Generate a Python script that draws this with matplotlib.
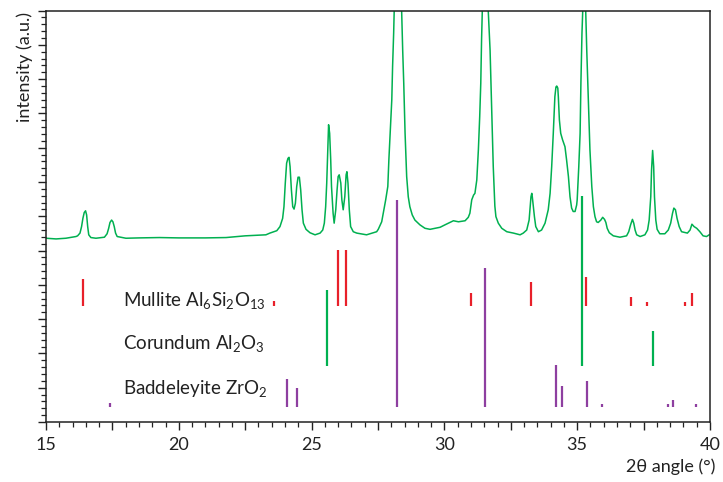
import matplotlib
matplotlib.use("Agg")
import matplotlib.pyplot as plt
from matplotlib.ticker import MultipleLocator, FuncFormatter

plt.rcParams['font.family'] = ['Lato', 'DejaVu Sans']
plt.rcParams['mathtext.fontset'] = 'custom'
plt.rcParams['mathtext.rm'] = 'Lato'
plt.rcParams['mathtext.it'] = 'Lato:italic'
plt.rcParams['mathtext.bf'] = 'Lato:bold'

# ---- measured XRD pattern (2theta, intensity a.u.), digitised ----
two_theta = [15.00, 15.38, 15.75, 16.13, 16.19, 16.28, 16.34, 16.39, 16.44, 16.49,
             16.53, 16.57, 16.61, 16.69, 16.88, 17.20, 17.30, 17.36, 17.41, 17.47,
             17.52, 17.57, 17.62, 17.68, 18.01, 18.51, 19.27, 20.00, 21.00, 21.78,
             22.50, 23.28, 23.43, 23.69, 23.81, 23.91, 23.96, 24.01, 24.06, 24.11,
             24.15, 24.19, 24.24, 24.29, 24.34, 24.39, 24.44, 24.49, 24.54, 24.59,
             24.64, 24.69, 24.79, 24.94, 25.13, 25.32, 25.42, 25.48, 25.53, 25.57,
             25.61, 25.64, 25.68, 25.72, 25.75, 25.81, 25.85, 25.91, 25.96, 26.00,
             26.04, 26.10, 26.14, 26.19, 26.25, 26.30, 26.33, 26.37, 26.42, 26.47,
             26.57, 26.70, 27.07, 27.45, 27.51, 27.64, 27.70, 27.79, 27.87, 27.91,
             27.96, 28.02, 28.05, 28.09, 28.11, 28.25, 28.39, 28.43, 28.47, 28.52,
             28.58, 28.64, 28.70, 28.79, 28.89, 29.08, 29.27, 29.46, 29.65, 29.84,
             30.02, 30.21, 30.34, 30.53, 30.78, 30.90, 30.96, 31.03, 31.10, 31.15,
             31.22, 31.28, 31.33, 31.37, 31.40, 31.43, 31.54, 31.65, 31.72, 31.78,
             31.84, 31.90, 31.94, 32.03, 32.16, 32.35, 32.60, 32.85, 32.97, 33.10,
             33.19, 33.22, 33.26, 33.29, 33.31, 33.35, 33.39, 33.44, 33.54, 33.66,
             33.79, 33.85, 33.91, 33.98, 34.04, 34.10, 34.16, 34.20, 34.23, 34.27,
             34.29, 34.33, 34.38, 34.45, 34.54, 34.60, 34.67, 34.73, 34.79, 34.85,
             34.92, 34.98, 35.00, 35.06, 35.11, 35.14, 35.18, 35.21, 35.26, 35.32,
             35.36, 35.42, 35.48, 35.55, 35.61, 35.67, 35.73, 35.79, 35.89, 35.96,
             36.03, 36.08, 36.13, 36.21, 36.36, 36.61, 36.86, 36.94, 37.01, 37.08,
             37.13, 37.18, 37.24, 37.37, 37.55, 37.65, 37.71, 37.77, 37.80, 37.84,
             37.88, 37.91, 37.96, 38.01, 38.11, 38.30, 38.43, 38.52, 38.59, 38.64,
             38.70, 38.76, 38.84, 38.93, 39.15, 39.25, 39.32, 39.40, 39.50, 39.62,
             39.74, 39.87, 39.97]
intensity = [5.36, 5.34, 5.36, 5.41, 5.43, 5.51, 5.70, 5.94, 6.11, 6.16,
             6.04, 5.70, 5.46, 5.38, 5.36, 5.39, 5.49, 5.65, 5.82, 5.89,
             5.84, 5.70, 5.51, 5.41, 5.36, 5.37, 5.38, 5.37, 5.37, 5.38,
             5.43, 5.46, 5.51, 5.58, 5.70, 5.94, 6.28, 6.97, 7.55, 7.69,
             7.72, 7.45, 6.77, 6.28, 6.21, 6.38, 6.87, 7.14, 7.14, 6.77,
             6.19, 5.80, 5.62, 5.52, 5.46, 5.51, 5.60, 5.80, 6.28, 6.97,
             7.94, 8.67, 8.42, 7.65, 6.87, 6.09, 5.80, 6.19, 6.77, 7.16,
             7.21, 6.97, 6.48, 6.19, 6.57, 7.21, 7.30, 6.97, 6.19, 5.70,
             5.55, 5.51, 5.46, 5.55, 5.62, 5.84, 6.09, 6.48, 6.87, 7.65,
             8.42, 9.40, 10.37, 11.34, 12.02, 16.00, 12.02, 10.85, 9.88, 8.42,
             7.16, 6.57, 6.28, 6.04, 5.89, 5.75, 5.65, 5.62, 5.65, 5.68,
             5.75, 5.82, 5.87, 5.84, 5.87, 5.97, 6.09, 6.48, 6.62, 6.67,
             7.06, 7.94, 8.91, 9.88, 11.15, 12.02, 16.00, 12.02, 10.85, 9.20,
             7.45, 6.30, 5.99, 5.80, 5.65, 5.55, 5.51, 5.46, 5.51, 5.60,
             5.89, 6.19, 6.57, 6.67, 6.57, 6.28, 5.99, 5.70, 5.55, 5.60,
             5.80, 5.99, 6.19, 6.67, 7.45, 8.42, 9.49, 9.77, 9.80, 9.74,
             9.49, 8.81, 8.42, 8.23, 8.03, 7.65, 7.16, 6.57, 6.24, 6.14,
             6.14, 6.33, 6.48, 7.45, 8.42, 9.88, 11.34, 12.02, 16.00, 12.02,
             10.85, 9.40, 7.94, 6.87, 6.28, 5.99, 5.84, 5.82, 5.89, 5.97,
             5.91, 5.82, 5.65, 5.52, 5.43, 5.39, 5.43, 5.55, 5.75, 5.91,
             5.80, 5.60, 5.46, 5.41, 5.46, 5.60, 5.89, 6.57, 7.35, 7.92,
             7.45, 6.57, 5.89, 5.62, 5.49, 5.49, 5.60, 5.80, 6.09, 6.24,
             6.19, 5.94, 5.70, 5.55, 5.51, 5.60, 5.77, 5.70, 5.65, 5.55,
             5.43, 5.41, 5.46]

# ---- reference patterns (stick positions and relative heights) ----
mullite_pos = [16.40, 23.58, 26.01, 26.28, 30.99, 33.26, 35.34, 37.03, 37.62, 39.05, 39.34]
mullite_int = [0.79, 0.16, 1.65, 1.65, 0.39, 0.71, 0.87, 0.27, 0.12, 0.12, 0.39]
corundum_pos = [25.59, 35.18, 37.84]
corundum_int = [2.21, 4.96, 1.01]
baddeleyite_pos = [17.41, 24.09, 24.46, 28.20, 31.52, 34.20, 34.43, 35.36, 35.92, 38.43, 38.61, 39.46]
baddeleyite_int = [0.13, 0.82, 0.56, 6.05, 4.07, 1.23, 0.63, 0.76, 0.10, 0.10, 0.21, 0.10]

phase_names = ["Mullite Al$_6$Si$_2$O$_{13}$", "Corundum Al$_2$O$_3$", "Baddeleyite ZrO$_2$"]
phase_offsets = [3.37, 1.64, 0.43]
label_y = [3.53, 2.28, 0.99]

c_curve = '#00b050'
c_red = '#e8202a'
c_green = '#00b050'
c_purple = '#8e3fa0'

fig = plt.figure(figsize=(7.23, 4.82), dpi=100)
ax = fig.add_axes([0.0636, 0.1245, 0.9184, 0.8535])

ax.plot(two_theta, intensity, color=c_curve, lw=1.1)

for pos, hts, off, col in [(mullite_pos, mullite_int, phase_offsets[0], c_red),
                           (corundum_pos, corundum_int, phase_offsets[1], c_green),
                           (baddeleyite_pos, baddeleyite_int, phase_offsets[2], c_purple)]:
    ax.vlines(pos, off, [off + h for h in hts], colors=col, lw=1.6)

for name, yy in zip(phase_names, label_y):
    ax.text(17.9, yy, name, fontsize=13.5, color='#222222', va='center', ha='left')

ax.set_xlim(15, 40)
ax.set_ylim(0, 12)

ax.xaxis.set_major_locator(MultipleLocator(2.5))
ax.xaxis.set_minor_locator(MultipleLocator(0.5))
ax.xaxis.set_major_formatter(FuncFormatter(lambda v, p: f"{v:.0f}" if abs(v / 5 - round(v / 5)) < 1e-6 else ""))
ax.yaxis.set_major_locator(MultipleLocator(1))
ax.yaxis.set_minor_locator(MultipleLocator(0.2))
ax.tick_params(axis='y', which='both', labelleft=False, direction='out')
ax.tick_params(axis='both', which='major', length=6, width=1.0, color='#222222')
ax.tick_params(axis='both', which='minor', length=3.5, width=0.9, color='#222222')
ax.tick_params(axis='x', labelsize=13, pad=5, labelcolor='#222222')
ax.tick_params(right=False, top=False, which='both')
for s in ax.spines.values():
    s.set_linewidth(1.1)
    s.set_color('#222222')

fig.text(0.0346, 0.975, "intensity (a.u.)", rotation=90, ha='center', va='top', fontsize=13, color='#222222')
fig.text(0.989, 0.031, "2θ angle (°)", ha='right', va='center', fontsize=13, color='#222222')

fig.savefig("out.png", dpi=100)
